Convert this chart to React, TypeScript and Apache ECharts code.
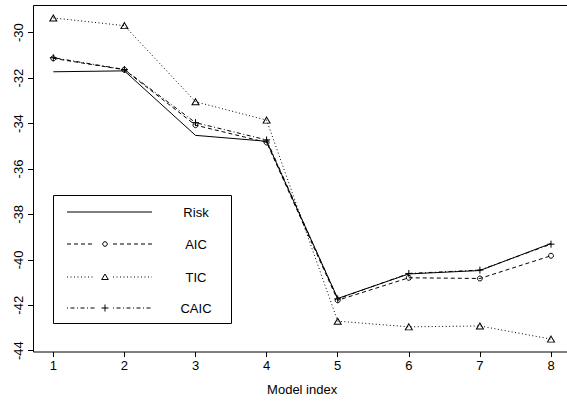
import React, { useEffect, useRef } from "react";
import * as echarts from "echarts";

const modelIndex = [1, 2, 3, 4, 5, 6, 7, 8];
const riskValues = [-31.72, -31.68, -34.52, -34.78, -41.7, -40.62, -40.47, -39.28];
const aicValues = [-31.13, -31.63, -34.07, -34.83, -41.78, -40.79, -40.82, -39.82];
const ticValues = [-29.35, -29.69, -33.04, -33.85, -42.7, -42.95, -42.91, -43.49];
const caicValues = [-31.1, -31.62, -33.96, -34.72, -41.72, -40.6, -40.45, -39.31];
const seriesNames = ["Risk", "AIC", "TIC", "CAIC"];
const yTicks = { min: -44, max: -30, step: 2 };
const xTicks = { min: 1, max: 8, step: 1 };
const xLabel = "Model index";

const FONT = "'Liberation Sans', Arial, Helvetica, sans-serif";
const PLUS = "path://M0,5L10,5M5,0L5,10";

export default function App() {
  const ref = useRef<HTMLDivElement>(null);
  useEffect(() => {
    if (!ref.current) return;
    const chart = echarts.init(ref.current, undefined, { renderer: "svg" });
    const pairs = (v: number[]) => modelIndex.map((x, i) => [x, v[i]]);
    const base = (name: string, vals: number[], type: string, dash: any, symbol: string, size: any) => ({
      name,
      type: "line",
      data: pairs(vals),
      clip: false,
      symbol,
      symbolSize: size,
      showSymbol: symbol !== "none",
      lineStyle: { color: "#000", width: 1, type: dash },
      itemStyle: { color: "transparent", borderColor: "#000", borderWidth: 1 },
      emphasis: { disabled: true },
    });

    const legX0 = 67, legX1 = 152, legMid = 105, rows = [212, 244, 277, 308];
    const legendChildren: any[] = [
      { type: "rect", shape: { x: 53.5, y: 195.5, width: 178, height: 128 }, style: { fill: "#fff", stroke: "#000", lineWidth: 1 } },
      { type: "line", shape: { x1: legX0, y1: rows[0], x2: legX1, y2: rows[0] }, style: { stroke: "#000", lineWidth: 1 } },
    ];
    const dashes = [[4, 3], [1, 2.5], [1, 2.5, 4, 2.5]];
    [1, 2, 3].forEach((k) => {
      const y = rows[k];
      legendChildren.push(
        { type: "line", shape: { x1: legX0, y1: y, x2: legMid - 10, y2: y }, style: { stroke: "#000", lineWidth: 1, lineDash: dashes[k - 1] } },
        { type: "line", shape: { x1: legMid + 8, y1: y, x2: legX1, y2: y }, style: { stroke: "#000", lineWidth: 1, lineDash: dashes[k - 1] } }
      );
    });
    legendChildren.push(
      { type: "circle", shape: { cx: legMid, cy: rows[1], r: 2.3 }, style: { fill: "none", stroke: "#000", lineWidth: 1 } },
      { type: "polygon", shape: { points: [[legMid, rows[2] - 3], [legMid - 3.3, rows[2] + 2.5], [legMid + 3.3, rows[2] + 2.5]] }, style: { fill: "none", stroke: "#000", lineWidth: 1 } },
      { type: "line", shape: { x1: legMid - 3.5, y1: rows[3], x2: legMid + 3.5, y2: rows[3] }, style: { stroke: "#000", lineWidth: 1 } },
      { type: "line", shape: { x1: legMid, y1: rows[3] - 3.5, x2: legMid, y2: rows[3] + 3.5 }, style: { stroke: "#000", lineWidth: 1 } }
    );
    seriesNames.forEach((n, i) => {
      legendChildren.push({
        type: "text",
        style: { text: n, x: 196, y: rows[i], align: "center", verticalAlign: "middle", font: `13px ${FONT}`, fill: "#000" },
      });
    });

    chart.setOption({
      animation: false,
      backgroundColor: "#fff",
      textStyle: { fontFamily: FONT },
      grid: { left: 53.3, right: 16, top: 32.7, bottom: 54.3, containLabel: false },
      xAxis: {
        type: "value",
        min: xTicks.min,
        max: xTicks.max,
        interval: xTicks.step,
        offset: 1.3,
        axisLine: { show: false },
        axisTick: { show: true, length: 5, lineStyle: { color: "#000" } },
        axisLabel: { color: "#000", fontSize: 13, margin: 7, fontFamily: FONT },
        splitLine: { show: false },
        name: xLabel,
        nameLocation: "middle",
        nameGap: 31,
        nameTextStyle: { color: "#000", fontSize: 13, fontFamily: FONT },
      },
      yAxis: {
        type: "value",
        min: yTicks.min,
        max: yTicks.max,
        interval: yTicks.step,
        offset: 20.3,
        axisLine: { show: false },
        axisTick: { show: true, length: 5, lineStyle: { color: "#000" } },
        axisLabel: { color: "#000", fontSize: 13, margin: 8, rotate: 90, fontFamily: FONT },
        splitLine: { show: false },
      },
      series: [
        base(seriesNames[0], riskValues, "line", "solid", "none", 0),
        base(seriesNames[1], aicValues, "line", [4, 3], "circle", 5),
        base(seriesNames[2], ticValues, "line", [1, 2.5], "triangle", [7, 6]),
        base(seriesNames[3], caicValues, "line", [1, 2.5, 4, 2.5], PLUS, 7),
      ],
      graphic: [
        { type: "rect", shape: { x: 33.5, y: 5.5, width: 538, height: 346.5 }, style: { fill: "none", stroke: "#000", lineWidth: 1 }, silent: true, z: 0 },
        { type: "group", children: legendChildren, z: 10 },
      ],
    });
    return () => chart.dispose();
  }, []);
  return <div ref={ref} style={{ position: "absolute", left: 0, top: 0, width: 567, height: 405 }} />;
}
